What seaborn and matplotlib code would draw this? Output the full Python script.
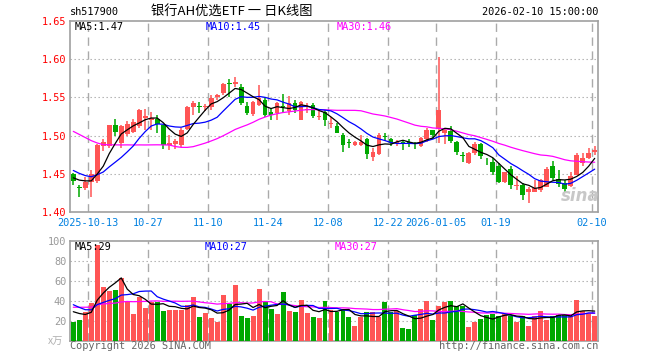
import numpy as np
import pandas as pd
import matplotlib
matplotlib.use("Agg")
import matplotlib.pyplot as plt
import seaborn as sns

# daily K-line of sh517900, 2025-09-30 .. 2026-02-10 (88 trading days)
open_ = [1.450, 1.433, 1.432, 1.440, 1.441, 1.486, 1.486, 1.514, 1.490, 1.502,
         1.505, 1.512, 1.523, 1.520, 1.522, 1.514, 1.488, 1.489, 1.488, 1.509,
         1.538, 1.539, 1.538, 1.538, 1.550, 1.556, 1.569, 1.568, 1.564, 1.539,
         1.528, 1.540, 1.547, 1.531, 1.529, 1.539, 1.532, 1.542, 1.521, 1.534,
         1.540, 1.524, 1.531, 1.515, 1.512, 1.501, 1.491, 1.488, 1.488, 1.495,
         1.472, 1.476, 1.499, 1.495, 1.490, 1.492, 1.491, 1.490, 1.486, 1.495,
         1.507, 1.509, 1.503, 1.506, 1.492, 1.474, 1.464, 1.477, 1.489, 1.466,
         1.466, 1.460, 1.440, 1.457, 1.434, 1.436, 1.427, 1.427, 1.429, 1.433,
         1.460, 1.444, 1.438, 1.434, 1.449, 1.464, 1.471, 1.479]
high = [1.451, 1.436, 1.446, 1.455, 1.489, 1.495, 1.514, 1.522, 1.514, 1.519,
        1.522, 1.535, 1.535, 1.531, 1.527, 1.514, 1.501, 1.495, 1.510, 1.539,
        1.545, 1.544, 1.541, 1.553, 1.555, 1.569, 1.574, 1.577, 1.567, 1.544,
        1.545, 1.566, 1.551, 1.536, 1.544, 1.555, 1.552, 1.546, 1.545, 1.542,
        1.542, 1.534, 1.533, 1.525, 1.516, 1.504, 1.495, 1.493, 1.501, 1.497,
        1.484, 1.503, 1.504, 1.497, 1.494, 1.494, 1.495, 1.492, 1.498, 1.510,
        1.508, 1.603, 1.510, 1.512, 1.493, 1.479, 1.479, 1.492, 1.490, 1.471,
        1.471, 1.464, 1.453, 1.460, 1.447, 1.438, 1.433, 1.442, 1.443, 1.459,
        1.467, 1.455, 1.442, 1.453, 1.477, 1.477, 1.484, 1.487]
low = [1.436, 1.420, 1.429, 1.420, 1.438, 1.480, 1.484, 1.500, 1.484, 1.500,
       1.503, 1.510, 1.508, 1.507, 1.503, 1.482, 1.481, 1.483, 1.485, 1.507,
       1.527, 1.530, 1.532, 1.534, 1.547, 1.553, 1.551, 1.564, 1.540, 1.527,
       1.526, 1.539, 1.525, 1.520, 1.520, 1.529, 1.527, 1.529, 1.520, 1.529,
       1.523, 1.520, 1.512, 1.510, 1.503, 1.479, 1.484, 1.487, 1.487, 1.469,
       1.467, 1.475, 1.493, 1.486, 1.487, 1.481, 1.485, 1.482, 1.485, 1.492,
       1.495, 1.490, 1.489, 1.491, 1.475, 1.466, 1.463, 1.475, 1.470, 1.462,
       1.449, 1.438, 1.438, 1.431, 1.429, 1.416, 1.412, 1.426, 1.427, 1.433,
       1.442, 1.433, 1.427, 1.433, 1.449, 1.460, 1.470, 1.475]
close = [1.441, 1.432, 1.439, 1.450, 1.488, 1.492, 1.514, 1.505, 1.512, 1.515,
         1.518, 1.533, 1.526, 1.523, 1.515, 1.488, 1.491, 1.493, 1.508, 1.538,
         1.543, 1.538, 1.539, 1.549, 1.553, 1.568, 1.568, 1.570, 1.542, 1.530,
         1.544, 1.549, 1.527, 1.527, 1.542, 1.538, 1.543, 1.534, 1.544, 1.535,
         1.526, 1.525, 1.520, 1.516, 1.504, 1.488, 1.490, 1.492, 1.492, 1.476,
         1.479, 1.501, 1.498, 1.490, 1.492, 1.489, 1.490, 1.489, 1.497, 1.508,
         1.501, 1.534, 1.508, 1.493, 1.479, 1.473, 1.477, 1.489, 1.473, 1.465,
         1.452, 1.440, 1.452, 1.436, 1.435, 1.423, 1.430, 1.432, 1.442, 1.457,
         1.445, 1.437, 1.430, 1.447, 1.475, 1.471, 1.478, 1.481]
# volume, x10k lots
volume = [19, 21, 29, 38, 96, 54, 50, 51, 63, 40, 27, 44, 33, 39, 39, 30, 31, 31, 31, 36,
          44, 24, 28, 23, 19, 46, 37, 56, 25, 23, 25, 52, 40, 32, 27, 49, 30, 29, 41, 28,
          24, 23, 40, 31, 29, 32, 24, 15, 24, 29, 29, 24, 39, 29, 30, 13, 12, 26, 32, 40,
          21, 35, 39, 40, 35, 35, 14, 19, 22, 26, 27, 25, 27, 25, 19, 25, 15, 25, 30, 21,
          25, 26, 27, 25, 41, 30, 27, 25]

# 29 sessions before the window, only needed so the moving averages start right
prev_close = [1.552, 1.560, 1.572, 1.580, 1.556, 1.520, 1.508, 1.516, 1.512, 1.522,
              1.530, 1.528, 1.520, 1.512, 1.492, 1.494, 1.553, 1.540, 1.540, 1.515,
              1.470, 1.468, 1.465, 1.462, 1.456, 1.447, 1.444, 1.450, 1.443]
prev_volume = [22, 28, 36, 24, 30, 34, 41, 29, 26, 33, 38, 31, 27, 35, 42, 30, 28, 36, 33, 41,
               48, 52, 39, 44, 32, 30, 34, 27, 35]

tick_idx = [3, 13, 23, 33, 43, 53, 61, 71, 87]
tick_labels = ["2025-10-13", "10-27", "11-10", "11-24", "12-08", "12-22",
               "2026-01-05", "01-19", "02-10"]

price_ticks = [1.40, 1.45, 1.50, 1.55, 1.60, 1.65]
vol_ticks = [20, 40, 60, 80, 100]

RED = "#FF5555"
GREEN = "#00A800"
GRID = "#AAAAAA"
SPINE = "#A0A0A0"
MA_COLORS = {5: "black", 10: "#0000FF", 30: "#FF00FF"}

sns.set_style("white")
plt.rcParams["font.family"] = ["DejaVu Sans Mono", "Noto Sans CJK SC"]

n = len(close)
idx = np.arange(n)
o = np.array(open_)
c = np.array(close)
up = c >= o
colors = np.where(up, RED, GREEN)

all_close = pd.Series(prev_close + close)
all_vol = pd.Series(prev_volume + volume)
ma_price = {k: all_close.rolling(k).mean().values[-n:] for k in (5, 10, 30)}
ma_vol = {k: all_vol.rolling(k).mean().values[-n:] for k in (5, 10, 30)}

W, H = 660, 360


def box(l, t, r, b):
    return [l / W, 1 - b / H, (r - l) / W, (b - t) / H]


fig = plt.figure(figsize=(W / 100, H / 100), dpi=100)
ax = fig.add_axes(box(70.3, 20.7, 597.7, 212.3))
axv = fig.add_axes(box(70.3, 240.7, 597.7, 340.7))

# --- price panel ---
ax.vlines(idx, low, high, colors=colors, linewidth=1.1, zorder=3)
body = np.maximum(np.abs(c - o), 0.0012)
ax.bar(idx, body, bottom=np.minimum(o, c), width=0.8, color=colors, linewidth=0, zorder=4)
for k in (30, 10, 5):
    sns.lineplot(x=idx, y=ma_price[k], color=MA_COLORS[k], linewidth=0.9, ax=ax, zorder=5)

ax.set_xlim(-0.5, n - 0.5)
ax.set_ylim(1.40, 1.65)
ax.set_yticks(price_ticks)
ax.set_yticklabels([f"{v:.2f}" for v in price_ticks], color="red", fontsize=7.4)
ax.set_xticks([i - 0.5 for i in tick_idx])
ax.set_xticklabels(tick_labels, color="#0080E0", fontsize=7.4)
ax.tick_params(length=0, pad=3)
ax.tick_params(axis="x", pad=4)

# --- volume panel ---
sns.barplot(x=idx, y=volume, hue=up, palette={True: RED, False: GREEN},
            native_scale=True, width=0.83, legend=False, saturation=1,
            linewidth=0, ax=axv, zorder=3)
for k in (30, 10, 5):
    sns.lineplot(x=idx, y=ma_vol[k], color=MA_COLORS[k], linewidth=0.9, ax=axv, zorder=5)
axv.set_xlim(-0.5, n - 0.5)
axv.set_ylim(0, 100)
axv.set_yticks(vol_ticks)
axv.set_yticklabels([str(v) for v in vol_ticks], color="#999999", fontsize=7.4)
axv.set_xticks([i - 0.5 for i in tick_idx])
axv.set_xticklabels([])
axv.tick_params(length=0, pad=3)
axv.set_xlabel("")
axv.set_ylabel("")

for a, ys in ((ax, price_ticks[1:-1]), (axv, vol_ticks[:-1])):
    for x in tick_idx:
        a.axvline(x - 0.5, color=GRID, linewidth=1.0, linestyle=(0, (6, 4)), zorder=1)
    for y in ys:
        a.axhline(y, color=GRID, linewidth=0.8, linestyle=(0, (1.2, 2.4)), zorder=1)
    for s in a.spines.values():
        s.set_color(SPINE)
        s.set_linewidth(1.2)

# --- texts ---
def ftext(x, y, s, **kw):
    fig.text(x / W, 1 - y / H, s, va="center", **kw)

ftext(70, 12, "sh517900", fontsize=7.4, color="black")
ftext(232, 12, "银行AH优选ETF 一 日K线图", fontsize=9.5, color="black", ha="center",
      family=["Noto Sans CJK SC", "DejaVu Sans"])
ftext(598, 12, "2026-02-10 15:00:00", fontsize=7.4, color="black", ha="right")

ftext(75, 27, "MA5:1.47", fontsize=7.4, color="black")
ftext(206, 27, "MA10:1.45", fontsize=7.4, color="#0000FF")
ftext(337, 27, "MA30:1.46", fontsize=7.4, color="#FF00FF")

ftext(75, 247, "MA5:29", fontsize=7.4, color="black")
ftext(205, 247, "MA10:27", fontsize=7.4, color="#0000FF")
ftext(335, 247, "MA30:27", fontsize=7.4, color="#FF00FF")

ftext(56, 341, "x万", fontsize=7.4, color="#B0B0B0", ha="center",
      family=["Noto Sans CJK SC", "DejaVu Sans"])
ftext(70, 346, "Copyright 2026 SINA.COM", fontsize=7.4, color="#666666")
ftext(598, 346, "http://finance.sina.com.cn", fontsize=7.4, color="#666666", ha="right")
ftext(580, 196, "sina", fontsize=12, color="#C8C8C8", ha="center", style="italic",
      weight="bold", family="DejaVu Sans")

fig.savefig("out.png", dpi=100)
